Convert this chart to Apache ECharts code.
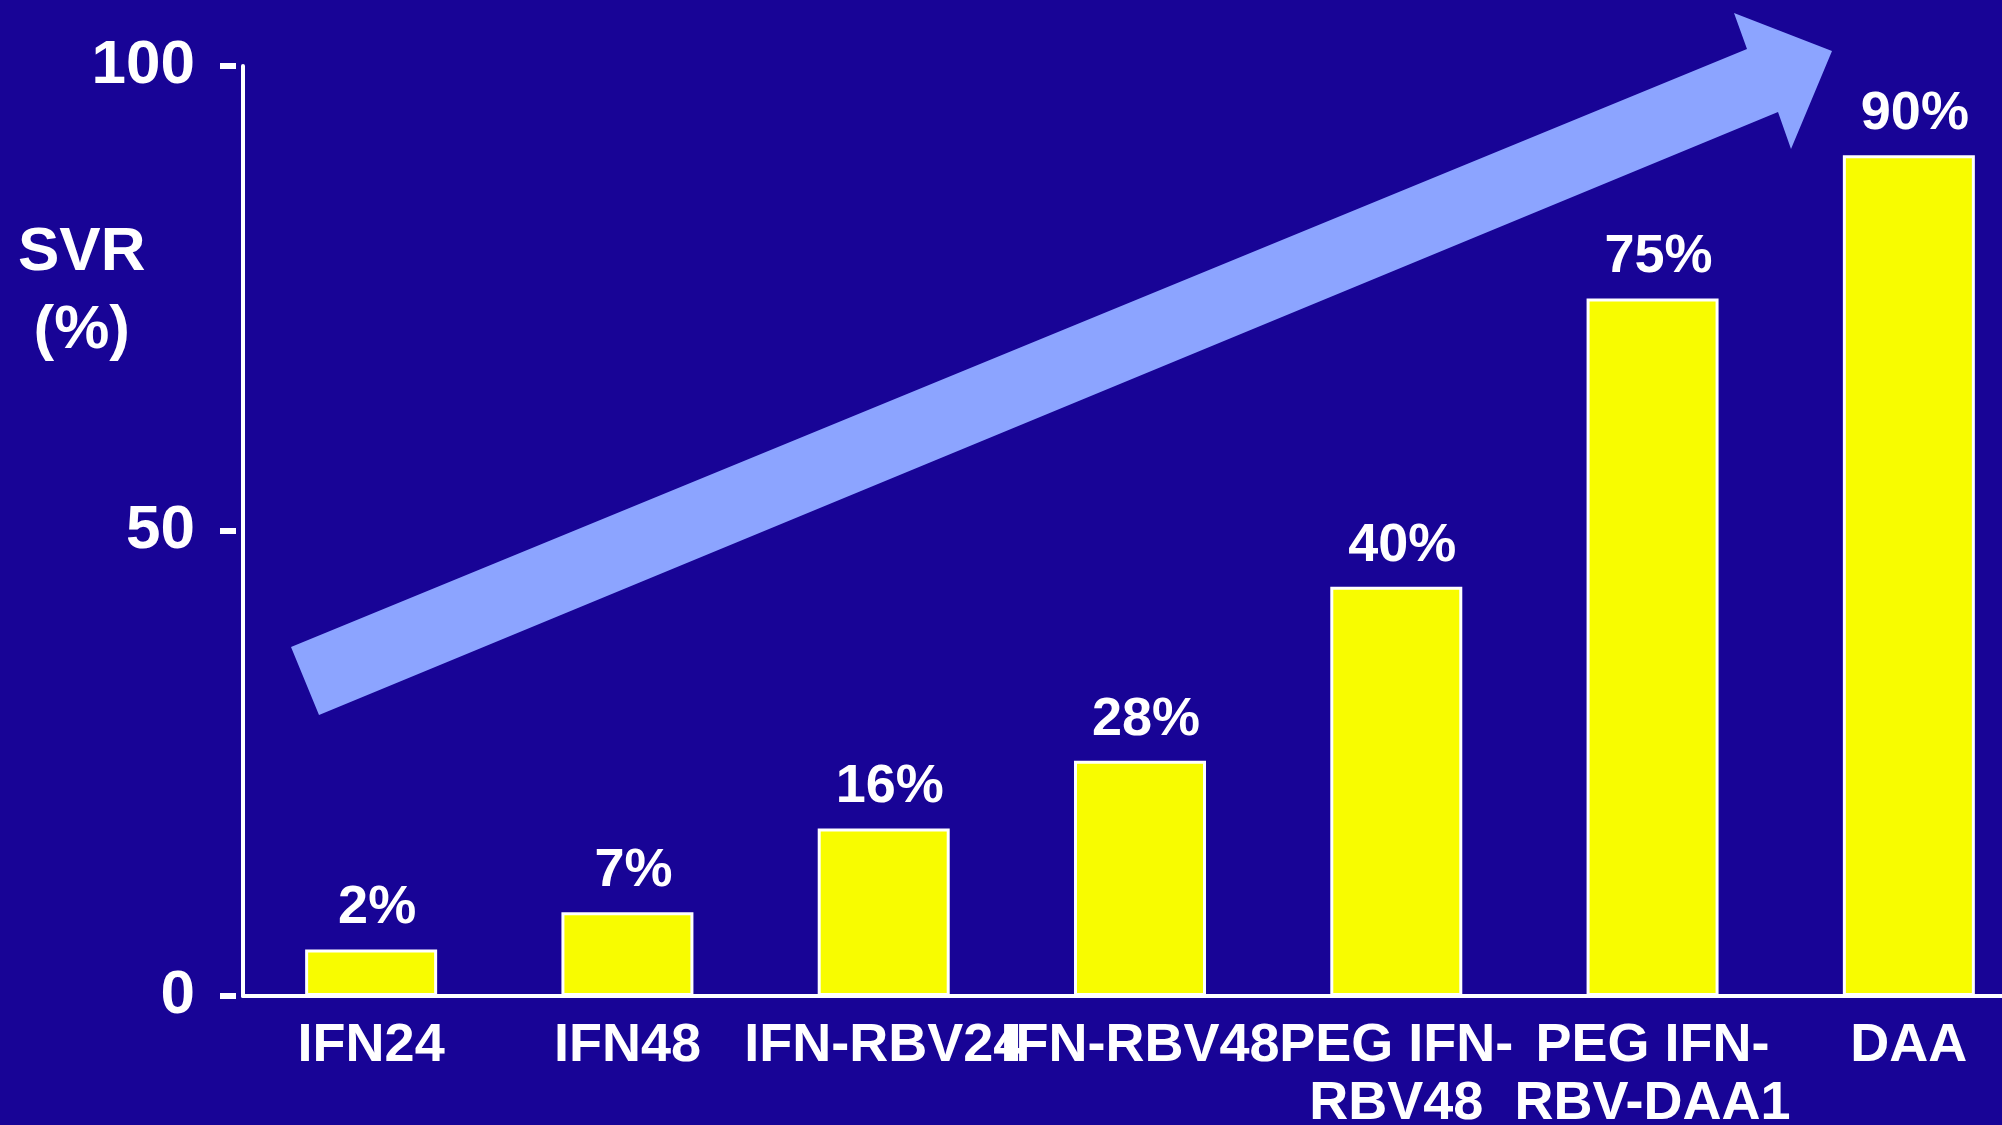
<!DOCTYPE html>
<html>
<head>
<meta charset="utf-8">
<title>SVR</title>
<script src="https://cdn.jsdelivr.net/npm/echarts@6/dist/echarts.min.js"></script>
<style>
    html, body{margin:0; padding:0; background:#180496;}
    #ChartMain{width:2002px; height:1125px;}
</style>
</head>
<body>
<div id="ChartMain"></div>
<script type="text/javascript">
    // categories (two-line names as shown under the axis)
    var categories = ['IFN24', 'IFN48', 'IFN-RBV24', 'IFN-RBV48', 'PEG IFN-\nRBV48', 'PEG IFN-\nRBV-DAA1', 'DAA'];
    // bar heights as drawn in the picture
    var barHeights = [5, 9, 18, 25.3, 44, 75, 90.4];
    // the text printed above each bar
    var barLabels = ['2%', '7%', '16%', '28%', '40%', '75%', '90%'];
    var yTicks = [0, 50, 100];

    var font = '"Liberation Sans", Arial, sans-serif';
    var myChart = echarts.init(document.getElementById('ChartMain'));
    var option = {
        backgroundColor: '#180496',
        animation: false,
        grid: {
            left: 243,
            top: 66,
            width: 1794,
            bottom: 129,
            outerBoundsMode: 'none'
        },
        xAxis: {
            type: 'category',
            data: categories,
            boundaryGap: true,
            axisLine: {lineStyle: {color: '#fff', width: 4}},
            axisTick: {show: false},
            axisLabel: {
                interval: 0,
                margin: 21,
                color: '#fff',
                fontFamily: font,
                fontWeight: 'bold',
                fontSize: 54,
                lineHeight: 58
            }
        },
        yAxis: {
            type: 'value',
            min: yTicks[0],
            max: yTicks[yTicks.length - 1],
            interval: 50,
            splitLine: {show: false},
            axisTick: {show: false},
            axisLine: {show: true, lineStyle: {color: '#fff', width: 4}},
            axisLabel: {
                margin: 7,
                formatter: function (v) {
                    return '{v|' + v + '}{g|}{d|}';
                },
                rich: {
                    v: {color: '#fff', fontFamily: font, fontWeight: 'bold', fontSize: 62},
                    g: {width: 25},
                    d: {width: 16, height: 6, backgroundColor: '#fff'}
                }
            }
        },
        series: [{
            type: 'bar',
            data: barHeights,
            barWidth: 132,
            itemStyle: {color: '#F8FC00', borderColor: '#fff', borderWidth: 3},
            label: {
                show: true,
                position: 'top',
                distance: 14,
                offset: [6, 0],
                color: '#fff',
                fontFamily: font,
                fontWeight: 'bold',
                fontSize: 54,
                formatter: function (p) {
                    return barLabels[p.dataIndex];
                }
            }
        }],
        graphic: [
            {
                type: 'text',
                left: 18,
                top: 214,
                style: {
                    text: 'SVR\n(%)',
                    fill: '#fff',
                    font: 'bold 62px ' + font,
                    lineHeight: 78,
                    textAlign: 'center'
                }
            },
            {
                // the big rising arrow
                type: 'polygon',
                z: -1,
                shape: {
                    points: [[291, 647], [1747, 49], [1734, 13], [1832, 51], [1791, 149], [1778, 112], [319, 715]]
                },
                style: {fill: '#8CA4FF'}
            }
        ]
    };
    myChart.setOption(option);
</script>
</body>
</html>
